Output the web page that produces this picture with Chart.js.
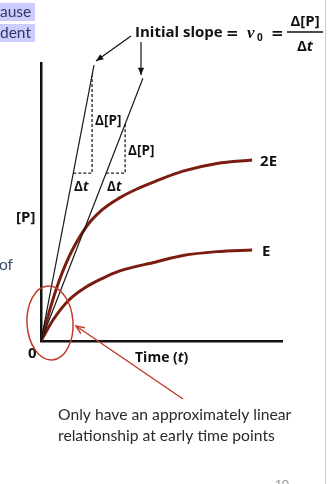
<!DOCTYPE html>
<html>
<head>
<meta charset="utf-8">
<script src="https://cdn.jsdelivr.net/npm/chart.js@4.4.1/dist/chart.umd.min.js"></script>
<style>
  html, body { margin: 0; padding: 0; background: #fff; }
  #wrap { width: 328px; height: 484px; position: relative; }
</style>
</head>
<body>
<div id="wrap"><canvas id="rateChart"></canvas></div>
<script>
// [P] vs tiempo (unidades arbitrarias)
const time2E = [0, 0.21, 0.62, 1.16, 1.87, 2.53, 3.24, 3.98, 4.77, 5.89, 7.30, 8.76];
const prod2E = [0, 0.75, 2.12, 3.49, 4.73, 5.44, 5.93, 6.31, 6.64, 7.05, 7.37, 7.51];
const timeE = [0, 0.50, 1.16, 1.87, 2.53, 3.24, 4.77, 5.89, 7.30, 8.76];
const prodE = [0, 0.87, 1.70, 2.24, 2.59, 2.90, 3.28, 3.55, 3.71, 3.78];

// tangentes de la pendiente inicial
const slopeA_t = [0, 2.20];
const slopeA_p = [0, 11.45];
const slopeB_t = [0, 4.23];
const slopeB_p = [0, 10.91];

// triángulos Δ[P] / Δt
const deltaA_t = [1.34, 2.12, 2.12];
const deltaA_p = [6.97, 6.97, 11.03];
const deltaB_t = [2.70, 3.49, 3.49];
const deltaB_p = [6.97, 6.97, 9.00];

const curveLabels = ['2E', 'E'];

const toPoints = (xs, ys) => xs.map((v, i) => ({ x: v, y: ys[i] }));

const curveColor = '#7a1c10';
const redInk = '#c63a2c';
const sans = '"Open Sans", "Noto Sans", sans-serif';

// dibuja texto con partes en negrita / cursiva
function drawRuns(ctx, parts, x, y) {
    let cx = x;
    parts.forEach(p => {
        ctx.font = p.font;
        ctx.fillText(p.text, cx, y);
        cx += ctx.measureText(p.text).width;
    });
}
function runsWidth(ctx, parts) {
    let w = 0;
    parts.forEach(p => { ctx.font = p.font; w += ctx.measureText(p.text).width; });
    return w;
}

function arrowHead(ctx, x1, y1, x2, y2, size, filled) {
    const a = Math.atan2(y2 - y1, x2 - x1);
    ctx.beginPath();
    ctx.moveTo(x2 - size * Math.cos(a - 0.4), y2 - size * Math.sin(a - 0.4));
    ctx.lineTo(x2, y2);
    ctx.lineTo(x2 - size * Math.cos(a + 0.4), y2 - size * Math.sin(a + 0.4));
    if (filled) { ctx.closePath(); ctx.fill(); } else { ctx.stroke(); }
}

const annotations = {
    id: 'annotations',
    afterDraw(chart) {
        const ctx = chart.ctx;
        const xs = chart.scales.x, ys = chart.scales.y;
        ctx.save();
        ctx.textBaseline = 'alphabetic';
        ctx.textAlign = 'left';

        // restos de la diapositiva
        ctx.fillStyle = '#ccccff';
        ctx.fillRect(0, 3, 35, 18);
        ctx.fillRect(0, 24, 35, 18);
        ctx.fillStyle = '#2f3d5c';
        ctx.font = '15.5px Lato, sans-serif';
        ctx.fillText('ause', 0, 17);
        ctx.fillText('dent', 0, 38);
        ctx.fillStyle = '#3a4a6a';
        ctx.fillText('of', -1, 270);
        ctx.strokeStyle = '#d0d0d0';
        ctx.lineWidth = 1;
        ctx.beginPath();
        ctx.moveTo(325.5, 0);
        ctx.lineTo(325.5, 484);
        ctx.stroke();
        ctx.fillStyle = '#909090';
        ctx.font = '12px Lato, sans-serif';
        ctx.fillText('10', 275, 488);

        // etiquetas de ejes
        ctx.fillStyle = '#111';
        ctx.font = 'bold 15px ' + sans;
        ctx.fillText('[P]', 16, 222);
        ctx.fillText('0', 28, 358);
        drawRuns(ctx, [
            { text: 'Time (', font: 'bold 14px ' + sans },
            { text: 't', font: 'bold italic 14px ' + sans },
            { text: ')', font: 'bold 14px ' + sans }
        ], 135, 362);

        // etiquetas de curvas al final de cada serie
        ctx.font = 'bold 15px ' + sans;
        ctx.fillText(curveLabels[0], xs.getPixelForValue(time2E[time2E.length - 1]) + 8, ys.getPixelForValue(prod2E[prod2E.length - 1]) + 6);
        ctx.fillText(curveLabels[1], xs.getPixelForValue(timeE[timeE.length - 1]) + 10, ys.getPixelForValue(prodE[prodE.length - 1]) + 6);

        // etiquetas Δ[P] y Δt
        const dP = [{ text: 'Δ[P]', font: 'bold 13.5px ' + sans }];
        const dT = [{ text: 'Δ', font: 'bold 13.5px ' + sans }, { text: 't', font: 'bold italic 13.5px ' + sans }];
        drawRuns(ctx, dP, xs.getPixelForValue(deltaA_t[1]) + 3, 125);
        drawRuns(ctx, dP, xs.getPixelForValue(deltaB_t[1]) + 3, 155);
        drawRuns(ctx, dT, 74, 191);
        drawRuns(ctx, dT, 107, 191);

        // fórmula de la pendiente inicial
        ctx.font = 'bold 15px ' + sans;
        ctx.fillText('Initial slope', 135, 37);
        ctx.font = 'bold 15px "DejaVu Serif", serif';
        ctx.fillText('=', 226, 38);
        ctx.font = 'bold italic 17px "Liberation Serif", serif';
        ctx.fillText('v', 247, 38);
        ctx.font = 'bold 10px ' + sans;
        ctx.fillText('0', 257, 41);
        ctx.font = 'bold 15px "DejaVu Serif", serif';
        ctx.fillText('=', 271, 38);
        const num = [{ text: 'Δ[P]', font: 'bold 15px ' + sans }];
        const den = [{ text: 'Δ', font: 'bold 15px ' + sans }, { text: 't', font: 'bold italic 15px ' + sans }];
        drawRuns(ctx, num, 305 - runsWidth(ctx, num) / 2, 26);
        drawRuns(ctx, den, 305 - runsWidth(ctx, den) / 2, 51);
        ctx.strokeStyle = '#111';
        ctx.lineWidth = 1.4;
        ctx.beginPath();
        ctx.moveTo(287, 32);
        ctx.lineTo(323, 32);
        ctx.stroke();

        // flechas negras hacia las tangentes
        ctx.fillStyle = '#111';
        ctx.lineWidth = 1.2;
        ctx.beginPath();
        ctx.moveTo(131, 36);
        ctx.lineTo(96, 61);
        ctx.stroke();
        arrowHead(ctx, 131, 36, 96, 61, 8, true);
        ctx.beginPath();
        ctx.moveTo(141, 42);
        ctx.lineTo(141, 75);
        ctx.stroke();
        arrowHead(ctx, 141, 42, 141, 75, 8, true);

        // elipse roja en el origen y flecha
        ctx.strokeStyle = redInk;
        ctx.lineWidth = 1.5;
        ctx.beginPath();
        ctx.ellipse(50, 323, 23, 37, -0.06, 0, Math.PI * 2);
        ctx.stroke();
        ctx.beginPath();
        ctx.moveTo(183, 399);
        ctx.lineTo(76, 326);
        ctx.stroke();
        arrowHead(ctx, 183, 399, 76, 326, 9, false);

        // nota inferior
        ctx.fillStyle = '#2a2a2a';
        ctx.font = '15.7px Lato, sans-serif';
        ctx.fillText('Only have an approximately linear', 58, 420);
        ctx.fillText('relationship at early time points', 58, 441);

        ctx.restore();
    }
};

const lineSet = (data, color, width, extra) => Object.assign({
    data: data,
    showLine: true,
    borderColor: color,
    borderWidth: width,
    pointRadius: 0,
    fill: false
}, extra || {});

const ctx = document.getElementById('rateChart').getContext('2d');
const rateChart = new Chart(ctx, {
    type: 'scatter',
    data: {
        datasets: [
            lineSet(toPoints(slopeA_t, slopeA_p), '#1a1a1a', 1.2),
            lineSet(toPoints(slopeB_t, slopeB_p), '#1a1a1a', 1.2),
            lineSet(toPoints(deltaA_t, deltaA_p), '#222', 1.3, { borderDash: [3, 2] }),
            lineSet(toPoints(deltaB_t, deltaB_p), '#222', 1.3, { borderDash: [3, 2] }),
            lineSet(toPoints(time2E, prod2E), curveColor, 3, { cubicInterpolationMode: 'monotone' }),
            lineSet(toPoints(timeE, prodE), curveColor, 3, { cubicInterpolationMode: 'monotone' })
        ]
    },
    options: {
        responsive: true,
        maintainAspectRatio: false,
        animation: false,
        layout: { padding: { left: 41, right: 46, top: 63, bottom: 143 } },
        plugins: { legend: { display: false }, tooltip: { enabled: false } },
        scales: {
            x: {
                type: 'linear', min: 0, max: 10,
                grid: { display: false, drawTicks: false },
                ticks: { display: false },
                border: { display: true, color: '#111', width: 2.5 }
            },
            y: {
                type: 'linear', min: 0, max: 11.54,
                grid: { display: false, drawTicks: false },
                ticks: { display: false },
                border: { display: true, color: '#111', width: 2.5 }
            }
        }
    },
    plugins: [annotations]
});
</script>
</body>
</html>
